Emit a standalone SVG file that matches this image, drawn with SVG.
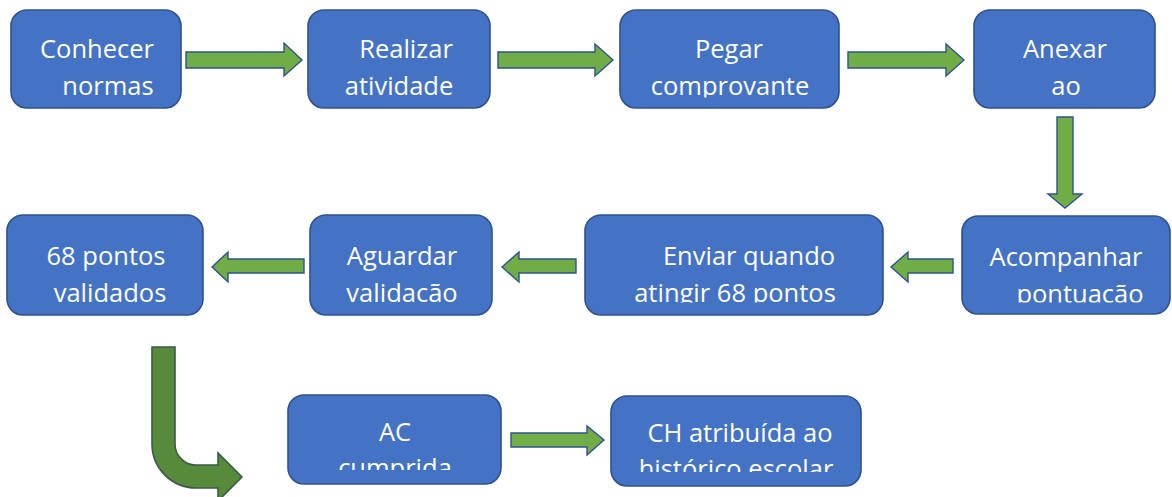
<svg xmlns="http://www.w3.org/2000/svg" width="1172" height="497" viewBox="0 0 1172 497">
<style>
.box{fill:#4472C4;stroke:#2F528F;stroke-width:1.6}
.t{font-family:"Open Sans","Noto Sans","DejaVu Sans",sans-serif;font-size:25.5px;fill:#FFFFFF;text-anchor:middle}
.arr{fill:#70AD47;stroke:#2F528F;stroke-width:1.4;stroke-linejoin:miter}
.bend{fill:#578A3A;stroke:#3E5A48;stroke-width:1.6}
</style>
<defs>
<clipPath id="c1"><rect x="0" y="0" width="1172" height="97.5"/></clipPath>
<clipPath id="c2"><rect x="0" y="200" width="1172" height="102.5"/></clipPath>
<clipPath id="c3"><rect x="280" y="390" width="230" height="80"/></clipPath>
<clipPath id="c4"><rect x="600" y="390" width="270" height="82"/></clipPath>
</defs>
<g id="connectors">
<path class="arr" d="M186,52 H284 V43 L302,60 L284,76 V68 H186 Z"/>
<path class="arr" d="M498,52 H595 V44 L613,60 L595,76 V68 H498 Z"/>
<path class="arr" d="M848,52 H946 V44 L964,60 L946,76 V68 H848 Z"/>
<path class="arr" d="M1057,117 H1073 V194 H1082 L1065,208 L1048,194 H1057 Z"/>
<path class="arr" d="M953,259 H908 V252 L891,267 L908,282 V273 H953 Z"/>
<path class="arr" d="M576,259 H519 V252 L502,267 L519,282 V273 H576 Z"/>
<path class="arr" d="M304,259 H228 V252 L212,267 L228,282 V273 H304 Z"/>
<path class="arr" d="M511,433 H587 V426 L604,440 L587,455 V447 H511 Z"/>
<path class="bend" d="M152,347 H175 V444 A21,21 0 0 0 196,465 H218 V453 L242,477 L218,501 V488 H196 A44,44 0 0 1 152,444 Z"/>
</g>
<g id="node-conhecer">
<rect class="box" x="11" y="10" width="170" height="98" rx="16"/>
<g clip-path="url(#c1)"><text class="t" x="97" y="58">Conhecer</text><text class="t" x="108" y="95">normas</text></g>
</g>
<g id="node-realizar">
<rect class="box" x="308" y="10" width="182" height="98" rx="16"/>
<g clip-path="url(#c1)"><text class="t" x="406" y="58">Realizar</text><text class="t" x="399" y="95">atividade</text></g>
</g>
<g id="node-pegar">
<rect class="box" x="620" y="10" width="219" height="98" rx="16"/>
<g clip-path="url(#c1)"><text class="t" x="729" y="58">Pegar</text><text class="t" x="730" y="95">comprovante</text></g>
</g>
<g id="node-anexar">
<rect class="box" x="974" y="10" width="181" height="98" rx="16"/>
<g clip-path="url(#c1)"><text class="t" x="1065" y="58">Anexar</text><text class="t" x="1066" y="95">ao</text></g>
</g>
<g id="node-acompanhar">
<rect class="box" x="962" y="216" width="208" height="98" rx="16"/>
<g clip-path="url(#c2)"><text class="t" x="1066" y="266">Acompanhar</text><text class="t" x="1080" y="303">pontuacão</text></g>
</g>
<g id="node-enviar">
<rect class="box" x="585" y="215" width="298" height="100" rx="16"/>
<g clip-path="url(#c2)"><text class="t" x="749" y="265">Enviar quando</text><text class="t" x="735" y="302">atingir 68 pontos</text></g>
</g>
<g id="node-aguardar">
<rect class="box" x="310" y="215" width="182" height="100" rx="16"/>
<g clip-path="url(#c2)"><text class="t" x="402" y="265">Aguardar</text><text class="t" x="402" y="302">validacão</text></g>
</g>
<g id="node-68pontos">
<rect class="box" x="7" y="215" width="196" height="100" rx="16"/>
<g clip-path="url(#c2)"><text class="t" x="106" y="265">68 pontos</text><text class="t" x="110" y="302">validados</text></g>
</g>
<g id="node-ac">
<rect class="box" x="288" y="395" width="213" height="89" rx="16"/>
<g clip-path="url(#c3)"><text class="t" x="395" y="441">AC</text><text class="t" x="395" y="477">cumprida</text></g>
</g>
<g id="node-ch">
<rect class="box" x="611" y="396" width="250" height="90" rx="16"/>
<g clip-path="url(#c4)"><text class="t" x="740" y="442">CH atribuída ao</text><text class="t" x="736" y="478">histórico escolar</text></g>
</g>
</svg>
